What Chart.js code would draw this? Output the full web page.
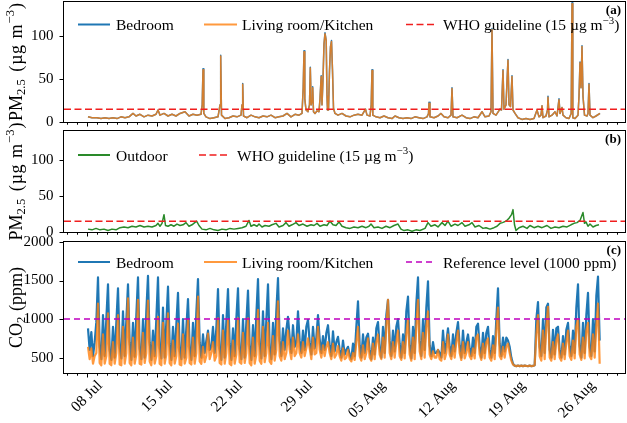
<!DOCTYPE html>
<html><head><meta charset="utf-8">
<script src="https://cdn.jsdelivr.net/npm/chart.js@4.4.0/dist/chart.umd.min.js"></script>
<style>
html,body{margin:0;padding:0;background:#fff;}
#wrap{position:relative;width:627px;height:423px;background:#fff;}
canvas{position:absolute;left:0;top:0;}
</style></head><body>
<div id="wrap">
<canvas id="ca" width="627" height="423"></canvas>
<canvas id="cb" width="627" height="423"></canvas>
<canvas id="cc" width="627" height="423"></canvas>
</div>
<script>
// ---------- DATA (x = days since 1 July) ----------
const xTickDays   = [7, 14, 21, 28, 35, 42, 49, 56];
const xTickLabels = ['08 Jul','15 Jul','22 Jul','29 Jul','05 Aug','12 Aug','19 Aug','26 Aug'];
const pmYTicks  = [0, 50, 100];
const co2YTicks = [500, 1000, 1500, 2000];
const whoGuideline = 15;
const co2Reference = 1000;

// indoor PM2.5 (µg m-3)
const pmIndoorDays = [
 7.1,7.5,8.0,8.4,8.8,9.2,9.6,10.0,10.4,10.8,
 11.2,11.6,11.9,12.3,12.7,13.1,13.5,13.9,14.1,14.3,
 14.7,15.1,15.5,15.9,16.3,16.8,17.2,17.6,18.0,18.4,
 18.52,18.6,18.68,18.9,19.3,19.7,20.1,20.3,20.37,20.45,
 20.8,21.2,21.6,22.0,22.4,22.5,22.57,22.65,23.0,23.4,
 23.8,24.2,24.6,25.0,25.4,25.8,26.2,26.6,27.0,27.4,
 27.8,28.2,28.5,28.62,28.7,28.78,28.9,29.1,29.25,29.33,
 29.42,29.5,29.57,29.65,29.8,30.0,30.2,30.3,30.42,30.5,
 30.6,30.7,30.8,30.92,31.0,31.05,31.15,31.25,31.35,31.45,
 31.55,31.65,31.8,32.1,32.5,32.9,33.3,33.7,34.1,34.5,
 34.85,35.0,35.3,35.42,35.5,35.58,35.9,36.3,36.7,37.1,
 37.5,37.8,38.2,38.6,39.0,39.4,39.8,40.2,40.6,41.0,
 41.15,41.2,41.3,41.7,42.1,42.4,42.7,43.1,43.4,43.5,
 43.6,44.0,44.5,44.9,45.3,45.7,46.1,46.5,46.8,47.2,
 47.4,47.5,47.6,47.9,48.3,48.45,48.6,48.7,48.9,49.05,
 49.1,49.2,49.35,49.5,49.6,49.8,50.1,50.5,50.9,51.3,
 51.7,52.0,52.2,52.4,52.5,52.6,52.9,53.05,53.1,53.2,
 53.5,53.8,54.0,54.2,54.3,54.5,54.6,54.9,55.2,55.42,
 55.5,55.58,55.8,56.1,56.2,56.3,56.4,56.5,56.6,56.75,
 57.0,57.1,57.2,57.3,57.6,57.9,58.3];
const pmLivingRoom = [
 6,5,5,4,5,4,5,4,6,5,
 6,10,7,9,6,8,7,9,14,8,
 10,7,9,7,10,12,7,9,8,9,
 20,61,10,6,4,5,6,20,77,8,
 4,5,7,6,8,20,44,7,5,8,
 6,5,7,6,8,5,6,7,10,6,
 9,8,10,40,82,27,14,12,20,63,
 20,25,40,12,10,13,12,27,53,20,
 50,91,103,95,30,14,14,60,88,94,
 60,16,10,8,10,7,6,8,9,8,
 15,8,7,20,60,8,6,5,7,5,
 4,7,5,4,5,4,6,5,4,6,
 10,22,6,5,7,10,6,5,8,39,
 6,5,8,5,4,6,5,12,6,7,
 12,108,10,8,15,14,60,15,20,60,
 72,20,18,53,14,10,5,3,4,3,
 4,14,6,8,19,5,7,14,29,6,
 8,12,7,26,10,17,8,5,4,10,
 138,5,4,8,30,69,40,88,30,8,
 7,10,44,8,5,7,10];
const pmBedroom = [
 6,5,5,4,5,4,5,4,6,5,
 6,10,7,9,6,8,7,9,14,8,
 10,7,9,7,10,12,7,9,8,9,
 20,62,10,6,4,5,6,20,78,8,
 4,5,7,6,8,20,45,7,5,8,
 6,5,7,6,8,5,6,7,10,6,
 9,8,10,40,83,27,14,12,20,64,
 20,25,41,12,10,13,12,27,54,20,
 50,91,104,95,30,14,14,60,88,95,
 60,16,10,8,10,7,6,8,9,8,
 15,8,7,20,61,8,6,5,7,5,
 4,7,5,4,5,4,6,5,4,6,
 10,23,6,5,7,10,6,5,8,40,
 6,5,8,5,4,6,5,12,6,7,
 12,109,10,8,15,14,61,15,20,60,
 73,20,18,54,14,10,5,3,4,3,
 4,14,6,8,19,5,7,14,30,6,
 8,12,7,27,10,17,8,5,4,10,
 139,5,4,8,30,70,40,89,30,8,
 7,10,45,8,5,7,10];

// outdoor PM2.5 (µg m-3)
const pmOutdoorDays = [
 7.1,7.5,7.9,8.3,8.7,9.1,9.5,9.9,10.3,10.7,
 11.1,11.5,11.9,12.3,12.7,13.1,13.5,13.9,14.1,14.3,
 14.5,14.7,14.85,15.1,15.4,15.7,16.0,16.3,16.6,16.9,
 17.2,17.5,17.96,18.2,18.5,18.9,19.3,19.7,20.1,20.5,
 20.9,21.3,21.7,22.1,22.5,22.9,23.2,23.4,23.7,24.0,
 24.2,24.5,24.8,25.2,25.5,25.9,26.2,26.6,26.9,27.2,
 27.5,27.9,28.2,28.6,29.0,29.4,29.7,30.0,30.3,30.7,
 31.0,31.3,31.6,31.9,32.2,32.5,32.9,33.3,33.7,34.1,
 34.5,34.9,35.2,35.4,35.7,36.1,36.5,36.9,37.3,37.7,
 38.1,38.4,38.7,39.1,39.5,39.9,40.3,40.8,41.1,41.4,
 41.8,42.1,42.5,42.8,43.1,43.4,43.8,44.1,44.5,44.8,
 45.2,45.5,45.8,46.2,46.6,46.9,47.3,47.7,48.0,48.3,
 48.55,48.9,49.2,49.45,49.6,49.75,49.9,50.2,50.6,51.0,
 51.3,51.7,52.1,52.5,53.0,53.4,53.8,54.2,54.6,55.0,
 55.4,55.7,56.0,56.3,56.6,56.75,56.9,57.1,57.3,57.6,
 57.9,58.2];
const pmOutdoor = [
 4,3,5,3,4,2,4,3,6,7,
 6,8,7,9,7,8,7,9,12,8,
 12,24,9,8,10,8,11,9,10,13,
 8,10,15,9,4,3,5,3,2,4,
 3,5,4,5,6,8,16,8,10,8,
 11,7,9,8,10,12,7,9,13,8,
 10,13,9,11,8,10,9,12,8,10,
 9,15,10,9,14,8,6,5,7,6,
 8,6,8,11,6,7,5,8,6,9,
 11,4,2,3,1,3,2,5,13,8,
 10,7,13,9,15,8,11,9,13,8,
 10,13,7,9,5,6,4,6,8,12,
 13,15,19,24,31,10,2,6,8,5,
 9,6,8,6,9,5,7,6,8,7,
 10,12,13,16,27,12,14,8,11,7,
 9,10];

// CO2 (ppm), one reading every 4 h starting at day 7.1 (one line per day)
const co2StartDay = 7.1;
const co2StepDays = 1 / 6;
const co2Bedroom = [
 880,600,830,520,700,960,
 1540,650,480,1050,520,1000,
 1450,600,470,900,500,950,
 1400,640,490,1100,520,980,
 1450,700,470,950,510,1050,
 1540,620,480,1000,500,1100,
 1560,700,470,850,520,1000,
 1540,640,490,1150,500,960,
 1420,680,470,900,520,930,
 1340,600,480,1000,500,880,
 1260,640,470,950,520,1080,
 1520,700,500,800,560,720,
 850,600,640,900,560,880,
 1390,620,470,1050,500,960,
 1390,680,470,880,520,1000,
 1400,620,480,1000,500,950,
 1370,660,470,920,520,1050,
 1520,680,490,1100,520,980,
 1450,640,480,950,540,1100,
 1530,720,520,880,600,860,
 1030,760,560,920,640,700,
 1100,720,560,850,600,900,
 990,700,540,900,620,760,
 1050,740,560,780,600,820,
 920,660,520,840,580,700,
 770,600,500,720,540,600,
 640,540,480,680,520,900,
 1230,660,500,800,560,760,
 810,600,480,760,540,880,
 960,640,500,900,560,1050,
 1250,720,520,850,580,900,
 1000,680,500,800,560,1100,
 1290,660,490,900,560,1200,
 1540,720,520,1000,600,1150,
 1490,660,520,700,560,560,
 600,560,500,850,560,700,
 880,640,520,800,580,820,
 960,660,500,850,560,700,
 800,620,520,760,560,900,
 940,640,500,820,560,820,
 900,600,500,780,560,1000,
 1400,680,520,760,580,760,
 720,640,500,420,395,390,
 395,390,395,390,395,392,
 390,395,390,392,400,1000,
 1220,640,520,1000,560,1150,
 1200,600,500,860,540,880,
 900,600,500,780,540,860,
 950,640,520,850,560,1150,
 1450,660,500,950,560,1050,
 1340,640,520,1000,580,1300,
 1550,720];
const co2LivingRoom = [
 640,480,620,420,520,560,
 1200,430,400,800,420,520,
 1075,420,400,700,420,560,
 1050,410,400,900,420,560,
 1270,430,400,760,420,540,
 1250,420,410,820,430,560,
 1240,450,400,700,420,520,
 1030,420,400,950,420,540,
 1075,430,400,720,420,520,
 940,410,400,800,420,500,
 990,430,410,760,420,560,
 1290,450,420,640,440,520,
 810,480,560,700,460,520,
 1010,430,410,850,420,560,
 990,420,400,720,420,540,
 1010,440,420,820,430,560,
 1010,430,400,760,420,540,
 1120,460,420,900,440,560,
 950,450,420,780,460,600,
 1230,520,460,700,480,560,
 850,600,480,760,520,560,
 800,560,500,700,520,620,
 750,620,480,760,540,560,
 900,600,500,660,520,640,
 700,560,480,680,500,540,
 650,520,460,620,480,500,
 600,480,450,560,470,700,
 900,520,460,660,480,560,
 750,500,460,680,480,700,
 800,540,480,760,500,900,
 1250,560,480,700,500,700,
 850,520,470,700,490,800,
 1000,540,460,760,480,900,
 1250,580,480,820,500,900,
 1100,540,480,580,500,500,
 600,480,460,700,480,560,
 800,540,480,660,500,700,
 850,560,470,700,490,560,
 700,520,480,620,490,760,
 800,540,470,680,490,700,
 750,500,460,660,480,840,
 1150,520,480,640,500,640,
 680,560,460,410,395,390,
 395,390,395,390,395,392,
 390,395,390,392,400,800,
 1050,520,460,850,480,900,
 1160,500,460,700,480,720,
 800,500,460,680,480,700,
 850,520,470,720,490,900,
 1000,540,470,760,490,850,
 950,520,480,800,500,900,
 1200,420];
const co2Days = co2Bedroom.map((_, i) => co2StartDay + i * co2StepDays);

// ---------- STYLE / LAYOUT ----------
const SERIF = '"Liberation Serif","Times New Roman",serif';
const X_MIN = 4.7, X_MAX = 60.8;
const C_BLUE = '#1f77b4', C_ORANGE = 'rgba(255,127,14,0.8)', C_RED = 'rgb(240,30,30)', C_GREEN = '#2a8a2a', C_PURPLE = '#bf00bf';
const SUP = (s, f, g) => ({t:s, s:f*0.7, dy:-f*0.4, g:g||0});
const SUB = (s, f, g) => ({t:s, s:f*0.7, dy:f*0.22, g:g||0});

function pts(xs, ys){ return xs.map((x,i)=>({x:x, y:ys[i]})); }
function hline(v){ return [{x:X_MIN,y:v},{x:X_MAX,y:v}]; }

function drawRich(ctx, parts, x, y, align){
  let w = 0;
  parts.forEach(p => { ctx.font = p.s + 'px ' + SERIF; p.w = ctx.measureText(p.t).width + (p.g||0); w += p.w; });
  let cx = align === 'center' ? x - w/2 : x;
  ctx.textAlign = 'left'; ctx.textBaseline = 'alphabetic';
  parts.forEach(p => { ctx.font = p.s + 'px ' + SERIF; ctx.fillText(p.t, cx, y + (p.dy||0)); cx += p.w; });
}

function decor(o){
  return {
    id: 'decor_' + o.name,
    afterDraw(chart){
      const ctx = chart.ctx, a = chart.chartArea, xs = chart.scales.x, ys = chart.scales.y;
      ctx.save();
      ctx.strokeStyle = '#000'; ctx.fillStyle = '#000'; ctx.lineWidth = 1; ctx.setLineDash([]);
      const L = Math.round(a.left) - 0.5, R = Math.round(a.right) + 0.5, T = Math.round(a.top) - 0.5, B = Math.round(a.bottom) + 0.5;
      ctx.strokeRect(L, T, R - L, B - T);
      ctx.beginPath();
      for (let d = Math.ceil(X_MIN); d <= Math.floor(X_MAX); d++){
        const px = Math.round(xs.getPixelForValue(d)) + 0.5;
        const len = xTickDays.includes(d) ? 4 : 2.2;
        ctx.moveTo(px, B); ctx.lineTo(px, B + len);
      }
      o.yTicks.forEach(v => {
        const py = Math.round(ys.getPixelForValue(v)) + 0.5;
        ctx.moveTo(L, py); ctx.lineTo(L - 4, py);
      });
      ctx.stroke();
      if (o.xLabels){
        const fs = 15.3;
        ctx.font = fs + 'px ' + SERIF; ctx.textAlign = 'center'; ctx.textBaseline = 'middle';
        xTickDays.forEach((d, i) => {
          const px = xs.getPixelForValue(d);
          const w = ctx.measureText(xTickLabels[i]).width;
          const half = (w + fs) * Math.SQRT1_2 / 2;
          ctx.save(); ctx.translate(px, 378 + half); ctx.rotate(-Math.PI/4);
          ctx.fillText(xTickLabels[i], 0, 0); ctx.restore();
        });
      }
      ctx.save(); ctx.translate(o.titleX, (a.top + a.bottom)/2); ctx.rotate(-Math.PI/2);
      drawRich(ctx, o.title, 0, 0, 'center'); ctx.restore();
      o.legend.forEach(it => {
        ctx.save();
        ctx.strokeStyle = it.color; ctx.lineWidth = it.width; ctx.setLineDash(it.dash || []);
        ctx.beginPath(); ctx.moveTo(it.x0, o.legendY); ctx.lineTo(it.x1, o.legendY); ctx.stroke();
        ctx.restore();
        ctx.fillStyle = '#000';
        drawRich(ctx, it.text, it.tx, o.legendY + 5.5, 'left');
      });
      ctx.font = 'bold 13px ' + SERIF; ctx.textAlign = 'right'; ctx.textBaseline = 'middle';
      ctx.fillText(o.letter, 621, a.top + 9);
      ctx.restore();
    }
  };
}

function panel(id, o, datasets){
  return new Chart(document.getElementById(id), {
    type: 'line',
    data: { datasets: datasets },
    options: {
      responsive: false, animation: false, events: [],
      layout: { padding: { left: 0, right: 2, top: o.top, bottom: 423 - o.bottom } },
      plugins: { legend: { display: false }, tooltip: { enabled: false } },
      scales: {
        x: { type: 'linear', display: false, min: X_MIN, max: X_MAX },
        y: { type: 'linear', position: 'left', min: o.yMin, max: o.yMax,
             afterBuildTicks: s => { s.ticks = o.yTicks.map(v => ({ value: v })); },
             afterFit: s => { s.width = 64; s.paddingTop = 0; s.paddingBottom = 0; },
             grid: { display: false, drawTicks: false }, border: { display: false },
             ticks: { color: '#000', font: { family: SERIF, size: 15 }, padding: 10.5, callback: v => String(v) } }
      },
      elements: { point: { radius: 0 }, line: { tension: 0, borderJoinStyle: 'round' } }
    },
    plugins: [decor(o)]
  });
}

const TF = 18;
const pmTitle = [{t:'PM', s:TF}, SUB('2.5', TF, 3), {t:' (', s:TF, g:1}, {t:'µ', s:TF, g:0.5},
                 {t:'g', s:TF, g:2}, {t:' m', s:TF, g:1}, SUP('−3', TF, 1), {t:')', s:TF}];
const LF = 15.5;
const whoText = [{t:'WHO guideline (15 µg m', s:LF}, SUP('−3', LF), {t:')', s:LF}];

panel('ca', { name:'a', top:2, bottom:122, yMin:0, yMax:140, yTicks:pmYTicks, letter:'(a)',
  titleX:21.5, title: pmTitle, legendY:24.5,
  legend: [
    {color:C_BLUE, width:2, x0:78, x1:110, tx:116, text:[{t:'Bedroom', s:LF}]},
    {color:C_ORANGE, width:2, x0:204, x1:237, tx:242, text:[{t:'Living room/Kitchen', s:LF}]},
    {color:C_RED, width:1.5, dash:[7,3.5], x0:406, x1:436, tx:443, text: whoText}
  ]}, [
  { data: hline(whoGuideline), borderColor: C_RED, borderWidth: 1.5, borderDash: [7,3.5], order: 0 },
  { data: pts(pmIndoorDays, pmLivingRoom), borderColor: C_ORANGE, borderWidth: 1.5, order: 1 },
  { data: pts(pmIndoorDays, pmBedroom), borderColor: C_BLUE, borderWidth: 1.5, order: 2 }
]);

panel('cb', { name:'b', top:131, bottom:232, yMin:0, yMax:140, yTicks:pmYTicks, letter:'(b)',
  titleX:21.5, title: pmTitle, legendY:155,
  legend: [
    {color:C_GREEN, width:2, x0:78, x1:110, tx:116, text:[{t:'Outdoor', s:LF}]},
    {color:C_RED, width:1.5, dash:[7,3.5], x0:199, x1:230, tx:237, text: whoText}
  ]}, [
  { data: hline(whoGuideline), borderColor: C_RED, borderWidth: 1.5, borderDash: [7,3.5], order: 0 },
  { data: pts(pmOutdoorDays, pmOutdoor), borderColor: C_GREEN, borderWidth: 1.5, order: 1 }
]);

panel('cc', { name:'c', top:242, bottom:373, yMin:300, yMax:2000, yTicks:co2YTicks, letter:'(c)',
  titleX:21.5, title: [{t:'CO', s:TF}, SUB('2', TF, 1), {t:' (ppm)', s:TF}], legendY:262, xLabels:true,
  legend: [
    {color:C_BLUE, width:2, x0:78, x1:110, tx:116, text:[{t:'Bedroom', s:LF}]},
    {color:C_ORANGE, width:2, x0:204, x1:237, tx:242, text:[{t:'Living room/Kitchen', s:LF}]},
    {color:C_PURPLE, width:1.5, dash:[6,4], x0:406, x1:436, tx:443, text:[{t:'Reference level (1000 ppm)', s:LF}]}
  ]}, [
  { data: hline(co2Reference), borderColor: C_PURPLE, borderWidth: 1.5, borderDash: [6,4], order: 0 },
  { data: pts(co2Days, co2LivingRoom), borderColor: C_ORANGE, borderWidth: 2.2, order: 1 },
  { data: pts(co2Days, co2Bedroom), borderColor: C_BLUE, borderWidth: 2.2, order: 2 }
]);
</script>
</body></html>
